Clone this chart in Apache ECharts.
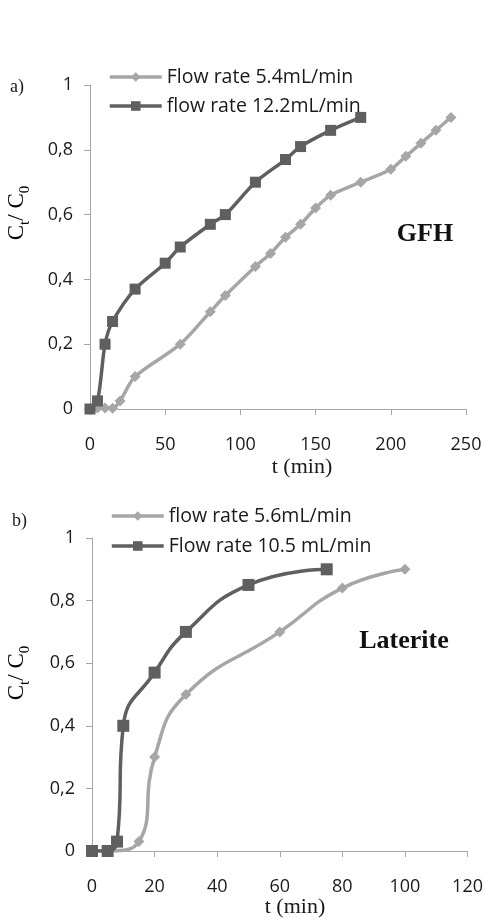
<!DOCTYPE html>
<html>
<head>
<meta charset="utf-8">
<script src="https://cdn.jsdelivr.net/npm/echarts@6/dist/echarts.min.js"></script>
<style>
  html, body { margin: 0; padding: 0; background: #fff; }
  #main { width: 486px; height: 918px; }
</style>
</head>
<body>
<div id="main"></div>
<script>
// a) GFH
var gfhSlowName = 'Flow rate 5.4mL/min';
var gfhSlowT = [0, 5, 10, 15, 20, 30, 60, 80, 90, 110, 120, 130, 140, 150, 160, 180, 200, 210, 220, 230, 240];
var gfhSlowC = [0, 0.003, 0.003, 0.002, 0.025, 0.1, 0.2, 0.3, 0.35, 0.44, 0.48, 0.53, 0.57, 0.62, 0.66, 0.7, 0.74, 0.78, 0.82, 0.86, 0.9];
var gfhFastName = 'flow rate 12.2mL/min';
var gfhFastT = [0, 5, 10, 15, 30, 50, 60, 80, 90, 110, 130, 140, 160, 180];
var gfhFastC = [0, 0.025, 0.2, 0.27, 0.37, 0.45, 0.5, 0.57, 0.6, 0.7, 0.77, 0.81, 0.86, 0.9];

// b) Laterite
var latSlowName = 'flow rate 5.6mL/min';
var latSlowT = [0, 5, 15, 20, 30, 60, 80, 100];
var latSlowC = [0, 0, 0.03, 0.3, 0.5, 0.7, 0.84, 0.9];
var latFastName = 'Flow rate 10.5 mL/min';
var latFastT = [0, 5, 8, 10, 20, 30, 50, 75];
var latFastC = [0, 0, 0.03, 0.4, 0.57, 0.7, 0.85, 0.9];

var yTicks = [0, 0.2, 0.4, 0.6, 0.8, 1];

function pairs(xs, ys) {
    return xs.map(function (x, i) { return [x, ys[i]]; });
}

var darkGrey = '#5f5f5f';
var lightGrey = '#a6a6a6';
var labelFont = 'Open Sans';
var serif = 'Liberation Serif';

function xAxisOpt(gridIndex, max, interval) {
    return {
        gridIndex: gridIndex, type: 'value', min: 0, max: max, interval: interval,
        axisLine: { show: true, lineStyle: { color: '#a6a6a6', width: 1 } },
        axisTick: { show: true, length: 6, lineStyle: { color: '#a6a6a6' } },
        axisLabel: { color: '#1a1a1a', fontSize: 18, fontFamily: labelFont, margin: 27 },
        splitLine: { show: false }
    };
}

function yAxisOpt(gridIndex) {
    return {
        gridIndex: gridIndex, type: 'value', min: yTicks[0], max: yTicks[yTicks.length - 1], interval: 0.2,
        axisLine: { show: true, lineStyle: { color: '#a6a6a6', width: 1 } },
        axisTick: { show: true, length: 6, lineStyle: { color: '#a6a6a6' } },
        axisLabel: {
            color: '#1a1a1a', fontSize: 18, fontFamily: labelFont, margin: 17,
            formatter: function (v) { return String(Math.round(v * 10) / 10).replace('.', ','); }
        },
        splitLine: { show: false }
    };
}

function lineSeries(name, idx, xs, ys, color, symbol, size, smooth) {
    return {
        name: name, type: 'line', xAxisIndex: idx, yAxisIndex: idx,
        data: pairs(xs, ys), smooth: smooth,
        symbol: symbol, symbolSize: size,
        lineStyle: { color: color, width: 3.5 },
        itemStyle: { color: color },
        emphasis: { disabled: true }
    };
}

var richTitle = {
    c: { fontSize: 23, fontFamily: serif, color: '#1a1a1a', lineHeight: 32, verticalAlign: 'middle' },
    s: { fontSize: 15, fontFamily: serif, color: '#1a1a1a', lineHeight: 15, verticalAlign: 'bottom' }
};

var myChart = echarts.init(document.getElementById('main'));
myChart.setOption({
    backgroundColor: '#fff',
    animation: false,
    grid: [
        { left: 90, top: 85, width: 376, height: 324 },
        { left: 92, top: 538, width: 377, height: 313 }
    ],
    xAxis: [xAxisOpt(0, 250, 50), xAxisOpt(1, 120, 20)],
    yAxis: [yAxisOpt(0), yAxisOpt(1)],
    legend: [
        {
            data: [gfhSlowName, gfhFastName], orient: 'vertical', left: 108, top: 67, padding: 0,
            itemWidth: 52, itemHeight: 12, itemGap: 9,
            lineStyle: { width: 3.5 },
            textStyle: { fontSize: 19.5, fontFamily: labelFont, color: '#1a1a1a' }
        },
        {
            data: [latSlowName, latFastName], orient: 'vertical', left: 110, top: 506, padding: 0,
            itemWidth: 52, itemHeight: 12, itemGap: 10,
            lineStyle: { width: 3.5 },
            textStyle: { fontSize: 19.5, fontFamily: labelFont, color: '#1a1a1a' }
        }
    ],
    series: [
        lineSeries(gfhSlowName, 0, gfhSlowT, gfhSlowC, lightGrey, 'diamond', 11, 0.3),
        lineSeries(gfhFastName, 0, gfhFastT, gfhFastC, darkGrey, 'rect', 11, 0.3),
        lineSeries(latSlowName, 1, latSlowT, latSlowC, lightGrey, 'diamond', 11, 0.5),
        lineSeries(latFastName, 1, latFastT, latFastC, darkGrey, 'rect', 12, 0.5)
    ],
    graphic: [
        { type: 'text', x: 10, y: 87, style: { text: 'a)', font: '18px "Liberation Serif"', fill: '#1a1a1a', verticalAlign: 'middle' } },
        { type: 'text', x: 12, y: 521, style: { text: 'b)', font: '18px "Liberation Serif"', fill: '#1a1a1a', verticalAlign: 'middle' } },
        { type: 'text', x: 17, y: 213, rotation: Math.PI / 2,
          style: { text: '{c|C}{s|t}{c|/ C}{s|0}', rich: richTitle, align: 'center', verticalAlign: 'middle' } },
        { type: 'text', x: 17, y: 673, rotation: Math.PI / 2,
          style: { text: '{c|C}{s|t}{c|/ C}{s|0}', rich: richTitle, align: 'center', verticalAlign: 'middle' } },
        { type: 'text', x: 302, y: 467, style: { text: 't (min)', font: '22px "Liberation Serif"', fill: '#1a1a1a', align: 'center', verticalAlign: 'middle' } },
        { type: 'text', x: 295, y: 907, style: { text: 't (min)', font: '22px "Liberation Serif"', fill: '#1a1a1a', align: 'center', verticalAlign: 'middle' } },
        { type: 'text', x: 425, y: 234, style: { text: 'GFH', font: 'bold 26px "Liberation Serif"', fill: '#111', align: 'center', verticalAlign: 'middle' } },
        { type: 'text', x: 404, y: 641, style: { text: 'Laterite', font: 'bold 26px "Liberation Serif"', fill: '#111', align: 'center', verticalAlign: 'middle' } }
    ]
});
</script>
</body>
</html>
